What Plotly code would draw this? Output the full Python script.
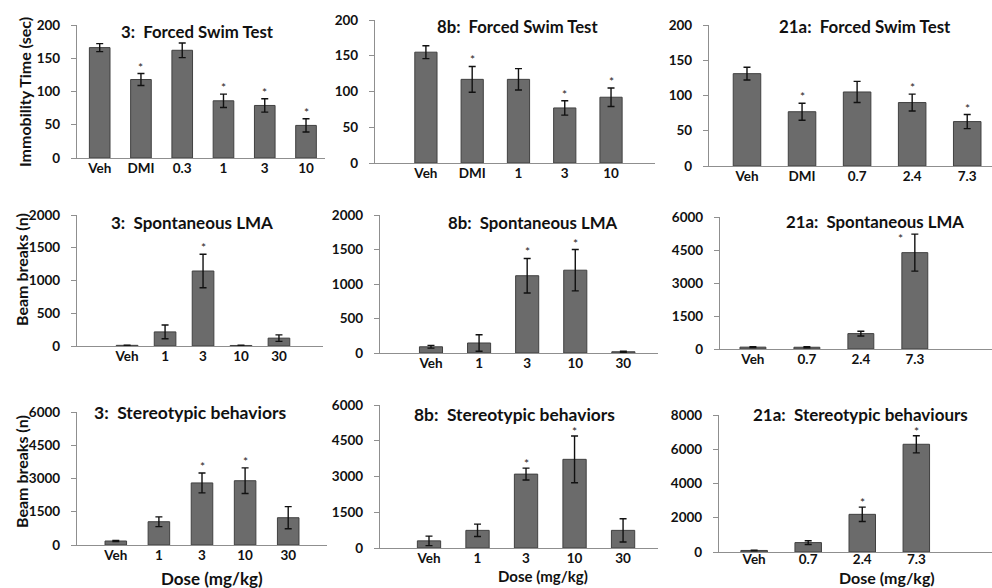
import plotly.graph_objects as go

# ---------------- data ----------------
fst3_cats = ["Veh", "DMI", "0.3", "1", "3", "10"]
fst3_mean = [166, 118, 162, 86, 79, 49]
fst3_err = [6, 9, 11, 10, 10, 10]
fst3_sig = [False, True, False, True, True, True]

fst8b_cats = ["Veh", "DMI", "1", "3", "10"]
fst8b_mean = [155, 117, 117, 77, 92]
fst8b_err = [9, 18, 15, 10, 13]
fst8b_sig = [False, True, False, True, True]

fst21a_cats = ["Veh", "DMI", "0.7", "2.4", "7.3"]
fst21a_mean = [131, 77, 105, 90, 63]
fst21a_err = [9, 12, 15, 12, 10]
fst21a_sig = [False, True, False, True, True]

lma3_cats = ["Veh", "1", "3", "10", "30"]
lma3_mean = [10, 215, 1145, 8, 120]
lma3_err = [3, 105, 255, 3, 50]
lma3_sig = [False, False, True, False, False]

lma8b_cats = ["Veh", "1", "3", "10", "30"]
lma8b_mean = [90, 145, 1120, 1200, 18]
lma8b_err = [20, 120, 250, 300, 8]
lma8b_sig = [False, False, True, True, False]

lma21a_cats = ["Veh", "0.7", "2.4", "7.3"]
lma21a_mean = [85, 80, 700, 4380]
lma21a_err = [20, 20, 110, 840]
lma21a_sig = [False, False, False, True]

st3_cats = ["Veh", "1", "3", "10", "30"]
st3_mean = [180, 1050, 2800, 2900, 1230]
st3_err = [25, 220, 450, 580, 500]
st3_sig = [False, False, True, True, False]

st8b_cats = ["Veh", "1", "3", "10", "30"]
st8b_mean = [300, 740, 3100, 3720, 740]
st8b_err = [200, 260, 250, 980, 490]
st8b_sig = [False, False, True, True, False]

st21a_cats = ["Veh", "0.7", "2.4", "7.3"]
st21a_mean = [90, 550, 2200, 6290]
st21a_err = [20, 110, 420, 500]
st21a_sig = [False, False, True, True]

# ---------------- layout helpers ----------------
W, H = 992, 588
FONT = "Lato"
BAR_FILL = "#6b6b6b"
BAR_LINE = "#404040"
AXIS_COL = "#8f8f8f"

panels = [
    # cats, mean, err, sig, title, (x0,x1,ytop,ybot) px, xrange, yrange, dtick,
    # barwidth, title centre px, title size, star shift (dx, dy) px, x tick standoff
    (fst3_cats, fst3_mean, fst3_err, fst3_sig, "3:  Forced Swim Test",
     (77, 325, 25, 158), [-0.55, 5.46], [0, 200], 50, 0.5, (197, 31), 16.8, (0, -3), -2),
    (fst8b_cats, fst8b_mean, fst8b_err, fst8b_sig, "8b:  Forced Swim Test",
     (375, 655, 20, 163), [-1.10, 4.95], [0, 200], 50, 0.48, (517, 27), 16.7, (0, -3), -2),
    (fst21a_cats, fst21a_mean, fst21a_err, fst21a_sig, "21a:  Forced Swim Test",
     (709, 992, 25, 166), [-0.69, 4.45], [0, 200], 50, 0.5, (865, 27), 16.9, (0, -3), -2),
    (lma3_cats, lma3_mean, lma3_err, lma3_sig, "3:  Spontaneous LMA",
     (77, 323, 215, 346), [-1.32, 5.16], [0, 2000], 500, 0.57, (192, 223), 17, (0, -3), -2),
    (lma8b_cats, lma8b_mean, lma8b_err, lma8b_sig, "8b:  Spontaneous LMA",
     (380, 658, 215, 353), [-1.06, 4.72], [0, 2000], 500, 0.48, (533, 223), 16.8, (0, -3), -2),
    (lma21a_cats, lma21a_mean, lma21a_err, lma21a_sig, "21a:  Spontaneous LMA",
     (720, 992, 217, 349), [-0.61, 4.43], [0, 6000], 1500, 0.48, (875, 221), 16.8, (-14, -14), -2),
    (st3_cats, st3_mean, st3_err, st3_sig, "3:  Stereotypic behaviors",
     (77, 327, 412, 545), [-0.9, 4.9], [0, 6000], 1500, 0.5, (190, 412), 17.5, (0, -3), -2),
    (st8b_cats, st8b_mean, st8b_err, st8b_sig, "8b:  Stereotypic behaviors",
     (380, 658, 405, 548), [-1.01, 4.72], [0, 6000], 1500, 0.48, (514, 414), 17.4, (0, -5), -2),
    (st21a_cats, st21a_mean, st21a_err, st21a_sig, "21a:  Stereotypic behaviours",
     (719, 992, 415, 552), [-0.65, 4.4], [0, 8000], 2000, 0.49, (860, 414), 17, (0, -5), -5),
]

fig = go.Figure()
annotations = []
layout_axes = {}

for i, (cats, mean, err, sig, title, box, xr, yr, dt, bw, tpos, tsize, sshift, xso) in enumerate(panels, start=1):
    x0, x1, yt, yb = box
    xa = "x" if i == 1 else f"x{i}"
    ya = "y" if i == 1 else f"y{i}"
    xkey = "xaxis" if i == 1 else f"xaxis{i}"
    ykey = "yaxis" if i == 1 else f"yaxis{i}"

    fig.add_trace(go.Bar(
        x=cats, y=mean, xaxis=xa, yaxis=ya, width=bw,
        marker=dict(color=BAR_FILL, line=dict(color=BAR_LINE, width=1)),
        error_y=dict(type="data", array=err, visible=True, color="#111111",
                     thickness=1.4, width=3.5),
        showlegend=False, hoverinfo="x+y",
    ))

    layout_axes[xkey] = dict(
        domain=[x0 / W, x1 / W], anchor=ya, type="category",
        categoryorder="array", categoryarray=cats, range=xr,
        showline=True, linecolor=AXIS_COL, linewidth=1.2, automargin=False,
        ticks="", showgrid=False, zeroline=False, ticklabelstandoff=xso,
        tickfont=dict(family=FONT, size=13.5, color="#111111", weight="bold"),
        fixedrange=True,
    )
    layout_axes[ykey] = dict(
        domain=[1 - yb / H, 1 - yt / H], anchor=xa, range=yr, dtick=dt,
        tick0=0, showline=True, linecolor=AXIS_COL, linewidth=1.2, automargin=False,
        ticks="outside", ticklen=5, tickcolor=AXIS_COL, tickwidth=1.2,
        showgrid=False, zeroline=False, ticklabelstandoff=8,
        tickfont=dict(family=FONT, size=13.5, color="#111111", weight="bold"),
        fixedrange=True,
    )

    annotations.append(dict(
        text=title, xref="paper", yref="paper",
        x=tpos[0] / W, y=1 - tpos[1] / H, xanchor="center", yanchor="middle",
        showarrow=False, font=dict(family=FONT, size=tsize, color="#111111", weight="bold"),
    ))

    for j, (m, e, s) in enumerate(zip(mean, err, sig)):
        if s:
            annotations.append(dict(
                text="*", xref=xa, yref=ya, x=j, y=m + e,
                xanchor="center", yanchor="bottom",
                xshift=sshift[0], yshift=sshift[1], showarrow=False,
                font=dict(family=FONT, size=12, color="#222222"),
            ))

# axis titles
annotations.append(dict(text="Immobility Time (sec)", xref="paper", yref="paper",
                        x=25 / W, y=1 - 92 / H, textangle=-90, showarrow=False,
                        xanchor="center", yanchor="middle",
                        font=dict(family=FONT, size=16, color="#111111", weight="bold")))
annotations.append(dict(text="Beam breaks (n)", xref="paper", yref="paper",
                        x=21 / W, y=1 - 270 / H, textangle=-90, showarrow=False,
                        xanchor="center", yanchor="middle",
                        font=dict(family=FONT, size=16, color="#111111", weight="bold")))
annotations.append(dict(text="Beam breaks (n)", xref="paper", yref="paper",
                        x=21 / W, y=1 - 472 / H, textangle=-90, showarrow=False,
                        xanchor="center", yanchor="middle",
                        font=dict(family=FONT, size=16, color="#111111", weight="bold")))
for (cx, cy, fs) in [(212, 578, 17), (543, 576, 15), (887, 577, 16)]:
    annotations.append(dict(text="Dose (mg/kg)", xref="paper", yref="paper",
                            x=cx / W, y=1 - cy / H, showarrow=False,
                            xanchor="center", yanchor="middle",
                            font=dict(family=FONT, size=fs, color="#111111", weight="bold")))

fig.update_layout(
    width=W, height=H, autosize=False,
    margin=dict(l=0, r=0, t=0, b=0, pad=0),
    paper_bgcolor="white", plot_bgcolor="white",
    annotations=annotations,
    font=dict(family=FONT),
    **layout_axes,
)

fig.write_html("out.html",
               config={"displayModeBar": False},
               post_script="document.body.style.margin='0';document.body.style.padding='0';")
